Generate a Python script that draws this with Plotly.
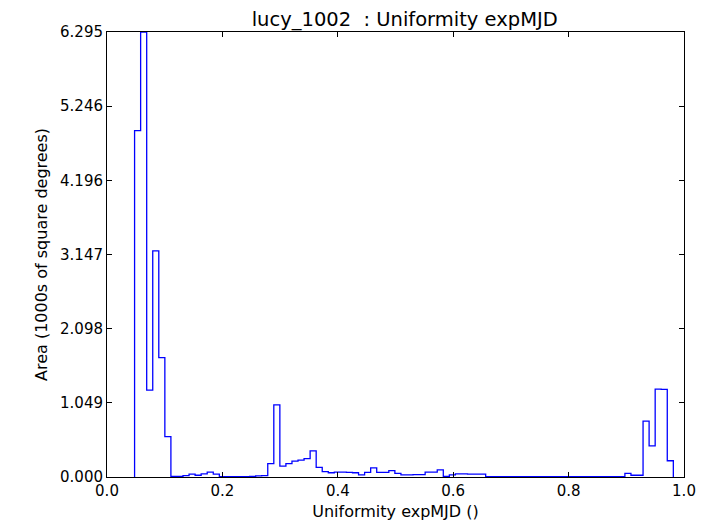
import numpy as np
import plotly.graph_objects as go

# histogram of expMJD uniformity (area per bin, 1000s of square degrees)
bin_lo = 0.0478
bin_hi = 0.9815
area = [
    4.90, 6.295, 1.23, 3.20, 1.69, 0.57, 0.01, 0.01, 0.02, 0.04,
    0.025, 0.045, 0.07, 0.04, 0.005, 0.005, 0.005, 0.005, 0.005, 0.01,
    0.015, 0.02, 0.19, 1.02, 0.155, 0.19, 0.225, 0.24, 0.26, 0.37,
    0.137, 0.075, 0.06, 0.07, 0.07, 0.065, 0.06, 0.03, 0.065, 0.13,
    0.065, 0.065, 0.09, 0.05, 0.03, 0.03, 0.035, 0.035, 0.07, 0.07,
    0.10, 0.01, 0.03, 0.045, 0.045, 0.04, 0.04, 0.04, 0.005, 0.005,
    0.005, 0.005, 0.005, 0.005, 0.005, 0.005, 0.005, 0.005, 0.005, 0.005,
    0.005, 0.005, 0.005, 0.005, 0.005, 0.005, 0.005, 0.005, 0.005, 0.005,
    0.005, 0.05, 0.025, 0.025, 0.79, 0.44, 1.244, 1.24, 0.23,
]
x_ticks = [0.0, 0.2, 0.4, 0.6, 0.8, 1.0]
y_ticks = [0.0, 1.049, 2.098, 3.147, 4.196, 5.246, 6.295]
y_labels = ["0.000", "1.049", "2.098", "3.147", "4.196", "5.246", "6.295"]

edges = np.linspace(bin_lo, bin_hi, len(area) + 1)
xs = [edges[0]] + list(edges)
ys = [0] + area + [0]

tickfnt = dict(family="DejaVu Sans", size=15, color="black")
labfnt = dict(family="DejaVu Sans", size=16, color="black")

fig = go.Figure()
fig.add_trace(go.Scatter(x=xs, y=ys, mode="lines", line_shape="hv",
                         line=dict(color="#0000ff", width=1.3), showlegend=False))

ax = dict(showline=True, linecolor="black", linewidth=1, mirror="ticks",
          ticks="inside", ticklen=5, tickcolor="black", showgrid=False,
          zeroline=False, tickfont=tickfnt)
fig.update_layout(
    width=712, height=525,
    margin=dict(l=99, r=36, t=24, b=56),
    paper_bgcolor="white", plot_bgcolor="white",
    font=labfnt,
    title=dict(text="lucy_1002&nbsp; : Uniformity expMJD", x=0.516, xanchor="center",
               xref="paper", y=0.978, yref="container", yanchor="middle",
               font=dict(family="DejaVu Sans", size=19.5, color="black")),
    xaxis=dict(ax, range=[0, 1], tickvals=x_ticks, tickformat=".1f",
               title=dict(text="Uniformity expMJD ()", font=labfnt, standoff=6)),
    yaxis=dict(ax, range=[0, 6.295], tickvals=y_ticks, ticktext=y_labels,
               title=dict(text="Area (1000s of square degrees)", font=labfnt, standoff=8)),
)

fig.write_html("out.html")
